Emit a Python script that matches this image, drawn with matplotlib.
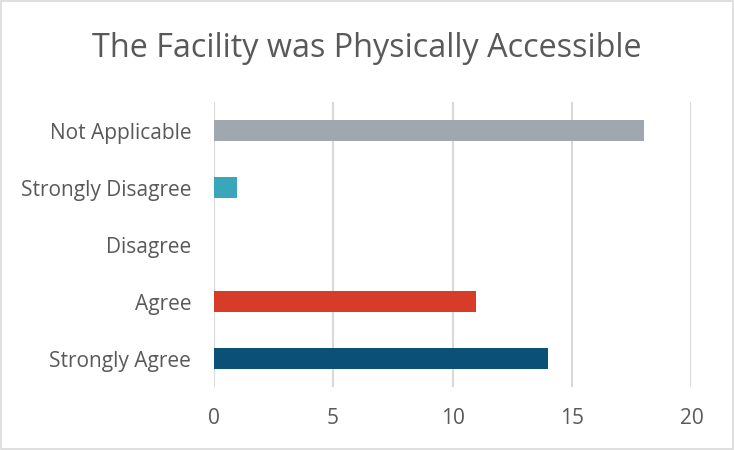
import matplotlib.pyplot as plt
from matplotlib.patches import Rectangle

categories = ['Strongly Agree', 'Agree', 'Disagree', 'Strongly Disagree', 'Not Applicable']
counts = [14, 11, 0, 1, 18]
colors = ['#0A5077', '#D63C28', '#7F7F7F', '#3AA6B9', '#A0A7AE']
xticks = [0, 5, 10, 15, 20]

plt.rcParams['font.family'] = ['Open Sans', 'DejaVu Sans']

fig = plt.figure(figsize=(7.34, 4.5), dpi=100)
ax = fig.add_axes([0.291, 0.14, 0.651, 0.633])

ax.barh(range(len(categories)), counts, height=0.37, color=colors, zorder=3)

ax.set_xlim(0, 20)
ax.set_ylim(-0.5, len(categories) - 0.5)
ax.set_xticks(xticks)
ax.set_yticks(range(len(categories)))
ax.set_yticklabels(categories)
ax.tick_params(length=0, labelsize=15, colors='#595959')
ax.tick_params(axis='x', pad=15)
ax.tick_params(axis='y', pad=16)
ax.grid(axis='x', color='#D9D9D9', linewidth=1.5, zorder=0)
for s in ax.spines.values():
    s.set_visible(False)

fig.text(0.5, 0.893, 'The Facility was Physically Accessible', ha='center', va='center',
         fontsize=23.3, color='#595959')

fig.patches.append(Rectangle((0.002, 0.003), 0.996, 0.994, transform=fig.transFigure,
                             fill=False, edgecolor='#D9D9D9', linewidth=1.2))

fig.savefig('out.png', dpi=100)
